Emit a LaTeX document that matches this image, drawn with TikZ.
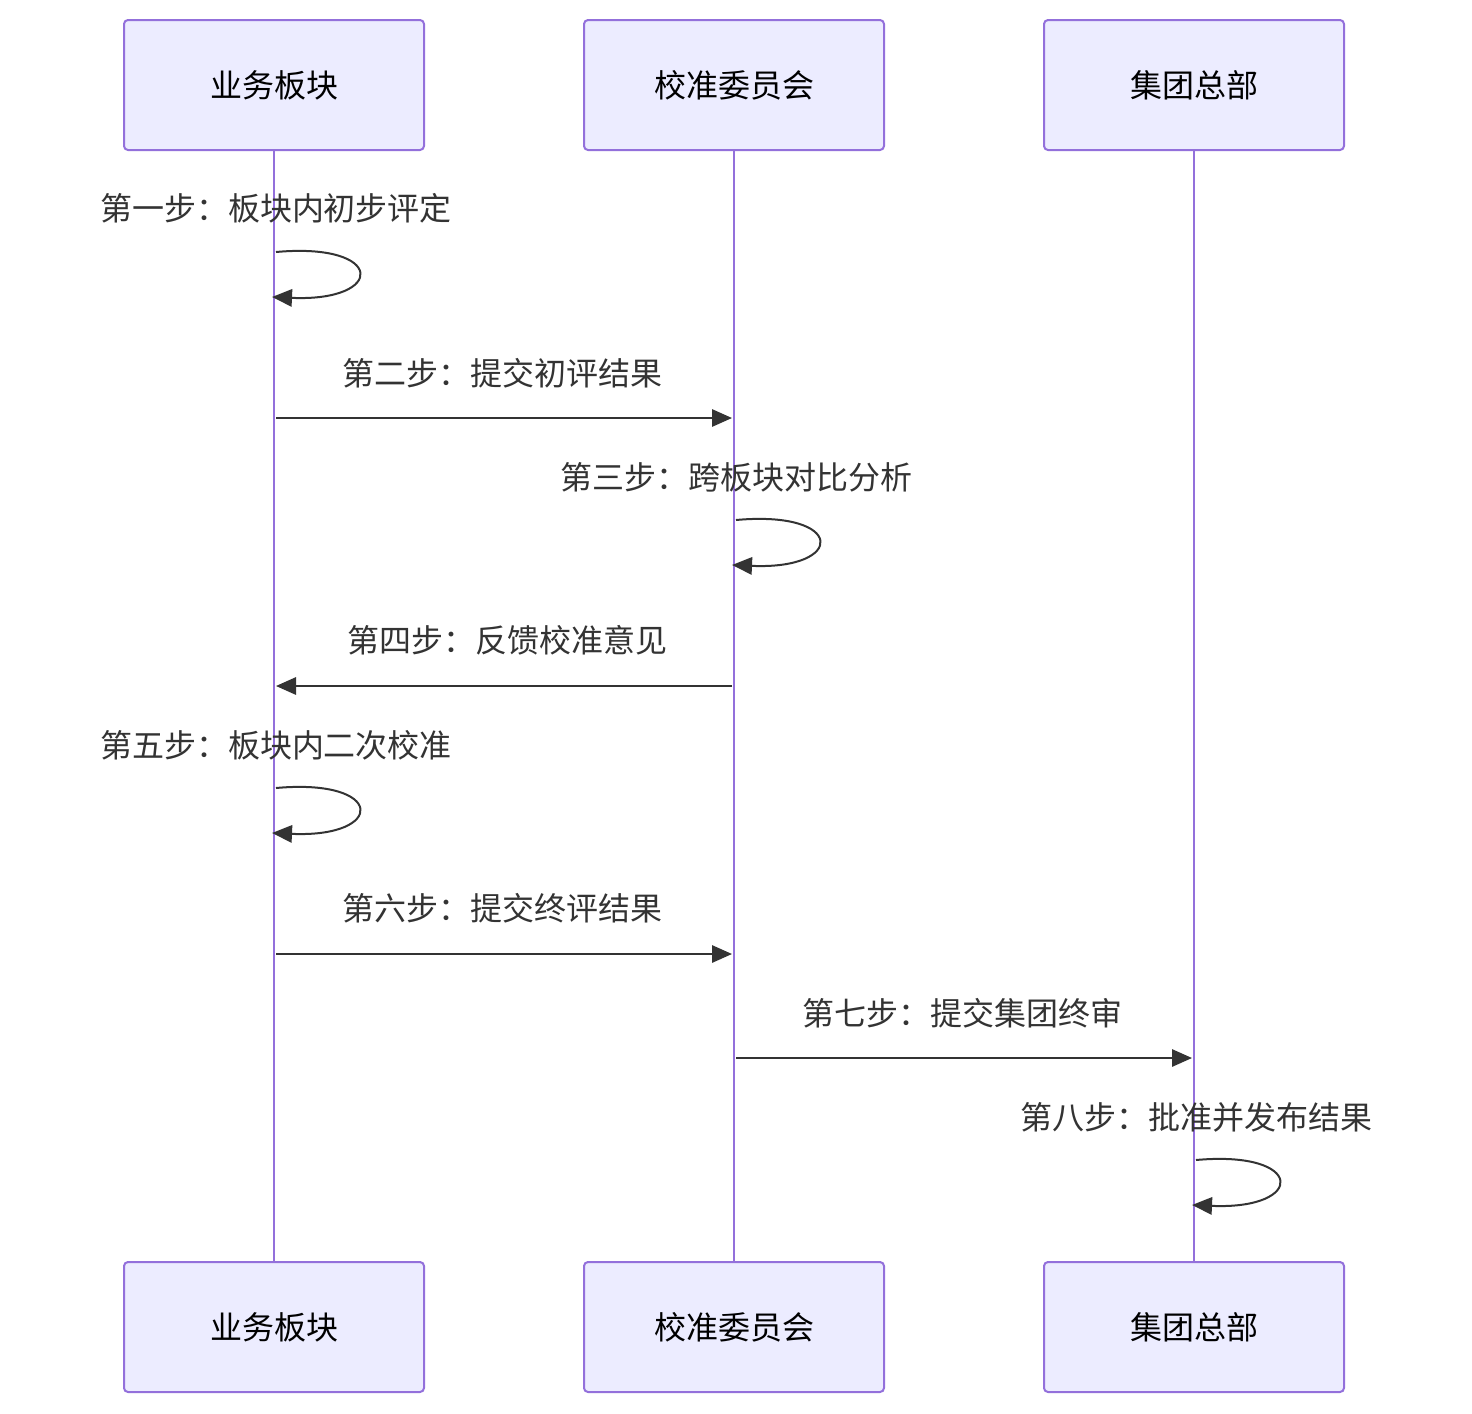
\documentclass[tikz,border=0pt]{standalone}
\usepackage{fontspec}
\setmainfont{Noto Sans CJK SC}
\usetikzlibrary{arrows.meta}
\definecolor{actfill}{HTML}{ECECFF}
\definecolor{actline}{HTML}{9370DB}
\definecolor{msg}{HTML}{333333}
\tikzset{
  actor/.style={draw=actline,fill=actfill,line width=1.5,rounded corners=3,minimum width=225pt,minimum height=97.5pt,font=\fontsize{24}{28}\selectfont},
  life/.style={actline,line width=2.2},
  msgline/.style={msg,line width=1.5,-{Triangle[length=15pt,width=13pt]}},
  lbl/.style={msg,font=\fontsize{24}{28}\selectfont}
}
\begin{document}
\begin{tikzpicture}[x=0.75pt,y=-0.75pt]
\path[use as bounding box] (0,0) rectangle (1472,1414);
% actors
\foreach \n/\x/\t in {biz/274/业务板块,cal/734/校准委员会,hq/1194/集团总部}{
  \node[actor] (\n top) at (\x,85) {\t};
  \node[actor] (\n bot) at (\x,1327) {\t};
  \draw[life] (\n top.south) -- (\n bot.north);
}
% step 1
\node[lbl] (s1) at (276,208) {第一步：板块内初步评定};
\draw[msgline] (276,252) .. controls (386,242) and (386,302) .. (272,297);
% step 2
\node[lbl] (s2) at (502,373) {第二步：提交初评结果};
\draw[msgline] (276,418) -- (732,418);
% step 3
\node[lbl] (s3) at (736,477) {第三步：跨板块对比分析};
\draw[msgline] (736,520) .. controls (846,510) and (846,570) .. (732,565);
% step 4
\node[lbl] (s4) at (507,640) {第四步：反馈校准意见};
\draw[msgline] (732,686) -- (276,686);
% step 5
\node[lbl] (s5) at (276,745) {第五步：板块内二次校准};
\draw[msgline] (276,788) .. controls (386,778) and (386,838) .. (272,833);
% step 6
\node[lbl] (s6) at (502,908) {第六步：提交终评结果};
\draw[msgline] (276,954) -- (732,954);
% step 7
\node[lbl] (s7) at (962,1013) {第七步：提交集团终审};
\draw[msgline] (736,1058) -- (1192,1058);
% step 8
\node[lbl] (s8) at (1196,1117) {第八步：批准并发布结果};
\draw[msgline] (1196,1160) .. controls (1306,1150) and (1306,1210) .. (1192,1205);
\end{tikzpicture}
\end{document}
